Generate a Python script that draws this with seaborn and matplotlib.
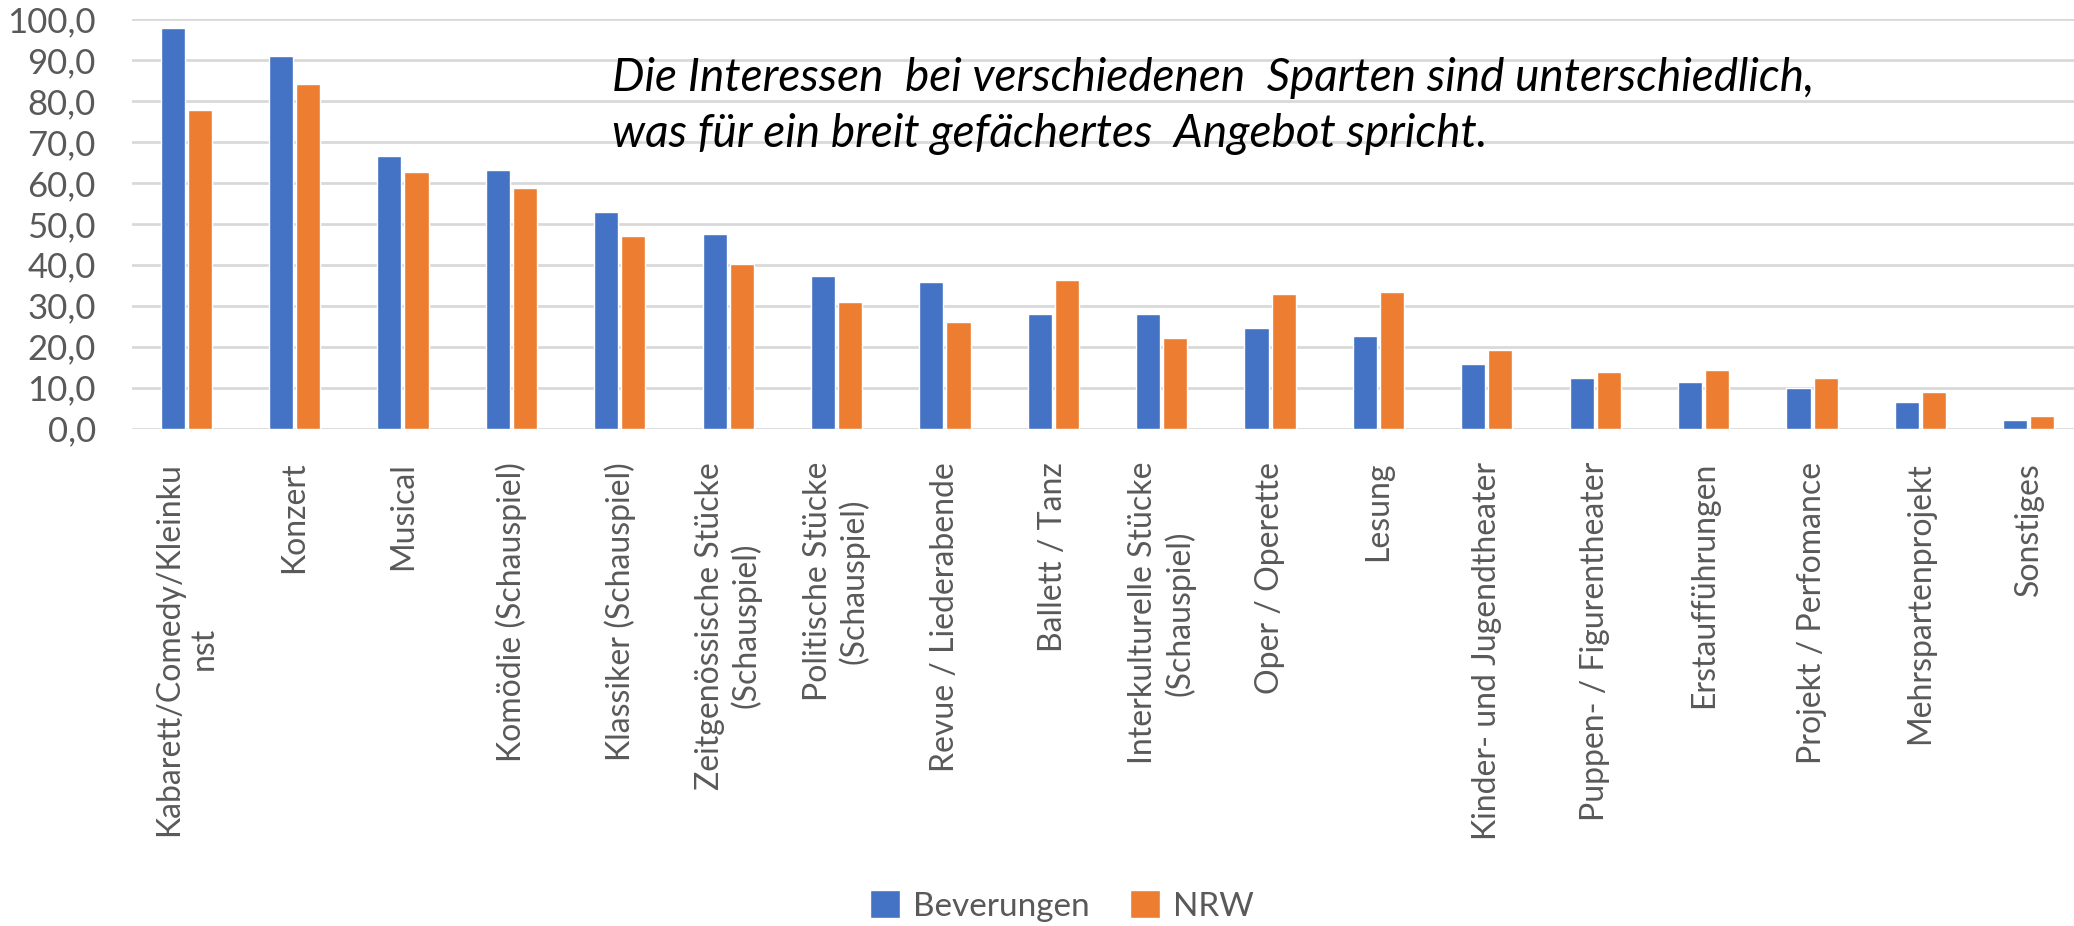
import matplotlib
matplotlib.use("Agg")
import matplotlib.pyplot as plt
import seaborn as sns
import pandas as pd
from matplotlib.ticker import FuncFormatter

categories = [
    "Kabarett/Comedy/Kleinku\nnst",
    "Konzert",
    "Musical",
    "Komödie (Schauspiel)",
    "Klassiker (Schauspiel)",
    "Zeitgenössische Stücke\n(Schauspiel)",
    "Politische Stücke\n(Schauspiel)",
    "Revue / Liederabende",
    "Ballett / Tanz",
    "Interkulturelle Stücke\n(Schauspiel)",
    "Oper / Operette",
    "Lesung",
    "Kinder- und Jugendtheater",
    "Puppen- / Figurentheater",
    "Erstaufführungen",
    "Projekt / Perfomance",
    "Mehrspartenprojekt",
    "Sonstiges",
]
beverungen = [97.7, 91.0, 66.6, 63.2, 52.9, 47.4, 37.2, 35.7, 27.9, 27.9,
              24.5, 22.6, 15.8, 12.4, 11.4, 9.9, 6.5, 2.1]
nrw = [77.8, 84.1, 62.7, 58.8, 47.1, 40.1, 30.8, 25.9, 36.2, 22.0,
       32.8, 33.3, 19.2, 13.8, 14.3, 12.4, 8.9, 3.1]
series_names = ["Beverungen", "NRW"]
yticks = [0, 10, 20, 30, 40, 50, 60, 70, 80, 90, 100]
note_lines = ["Die Interessen  bei verschiedenen  Sparten sind unterschiedlich,",
              "was für ein breit gefächertes  Angebot spricht."]

df = pd.DataFrame({
    "Sparte": categories * 2,
    "Wert": beverungen + nrw,
    "Gruppe": [series_names[0]] * len(categories) + [series_names[1]] * len(categories),
})

sns.set_theme(style="white")
plt.rcParams["font.family"] = ["Lato", "DejaVu Sans"]

W, H = 2074, 926
fig = plt.figure(figsize=(W / 100, H / 100), dpi=100)
ax = fig.add_axes([132 / W, (H - 428.5) / H, 1951 / W, (428.5 - 19) / H])

sns.barplot(data=df, x="Sparte", y="Wert", hue="Gruppe",
            palette=["#4472C4", "#ED7D31"], width=0.5, gap=0.11,
            saturation=1, ax=ax, legend=True)

ax.set_ylim(0, 100)
ax.set_xlim(-0.5, len(categories) - 0.5)
ax.set_yticks(yticks)
ax.yaxis.set_major_formatter(FuncFormatter(lambda v, p: f"{v:.1f}".replace(".", ",")))
ax.grid(axis="y", color="#D9D9D9", linewidth=2)
ax.set_axisbelow(True)
for s in ax.spines.values():
    s.set_visible(False)
ax.set_xlabel("")
ax.set_ylabel("")
ax.tick_params(axis="y", length=0, pad=26, labelsize=25, labelcolor="#595959")
ax.tick_params(axis="x", length=0, pad=24, labelsize=23, labelcolor="#595959")
for lab in ax.get_xticklabels():
    lab.set_rotation(90)
    lab.set_ha("center")
    lab.set_va("top")
    lab.set_multialignment("center")

handles, labels = ax.get_legend_handles_labels()
ax.get_legend().remove()
fig.legend(handles, labels, loc="center", bbox_to_anchor=(1062 / W, (H - 906) / H),
           ncol=2, frameon=False, fontsize=24, labelcolor="#595959",
           handlelength=0.9, handleheight=0.9, handletextpad=0.4, columnspacing=1.2)

fig.text(612 / W, (H - 91) / H, note_lines[0], fontsize=33, style="italic",
         color="black", va="baseline", ha="left")
fig.text(612 / W, (H - 147) / H, note_lines[1], fontsize=33, style="italic",
         color="black", va="baseline", ha="left")

fig.savefig("out.png", dpi=100)
